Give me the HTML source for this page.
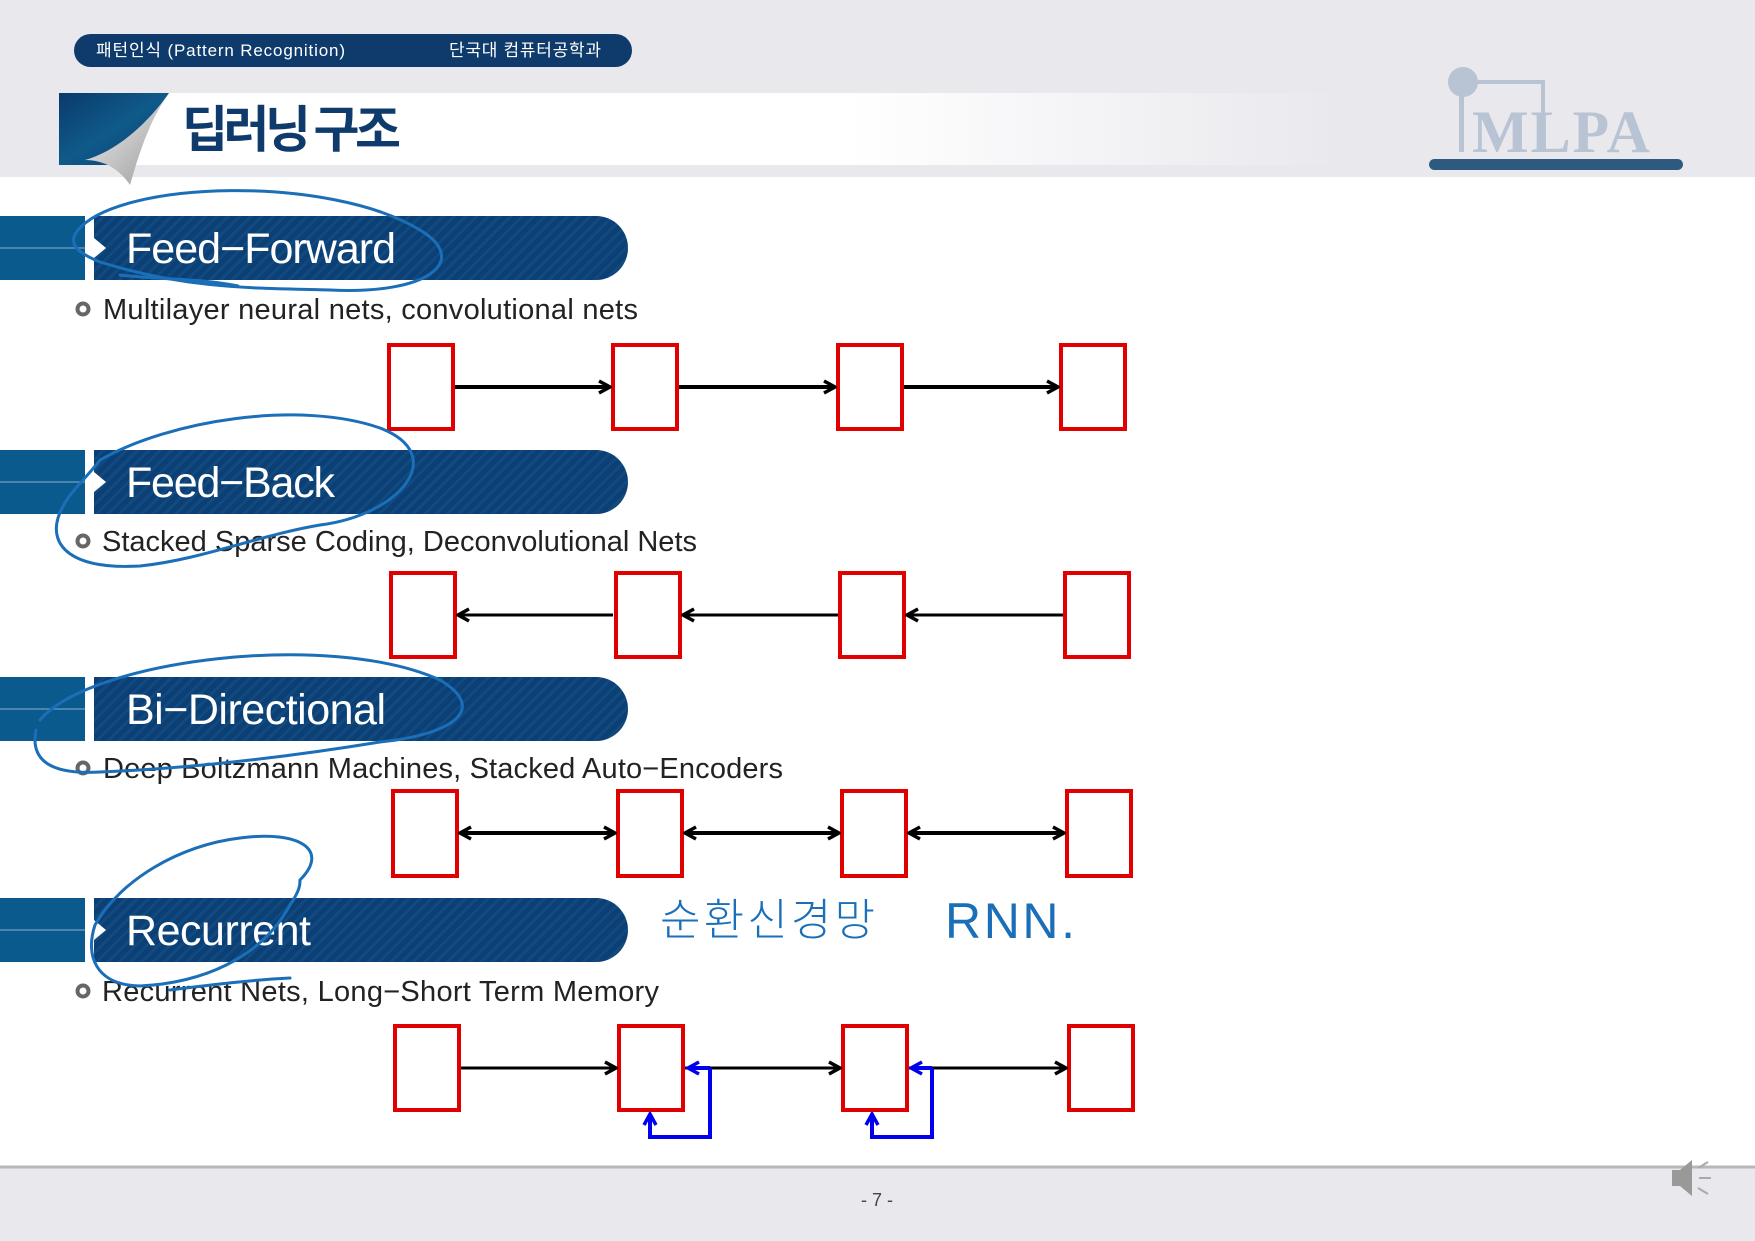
<!DOCTYPE html>
<html><head><meta charset="utf-8"><style>
html,body{margin:0;padding:0;background:#fff;}
svg{display:block;}
</style></head><body>
<svg width="1755" height="1241" viewBox="0 0 1755 1241" xmlns="http://www.w3.org/2000/svg">
<defs>
<pattern id="st" width="8" height="8" patternUnits="userSpaceOnUse" patternTransform="rotate(45)">
<rect width="8" height="8" fill="#0c3f73"/><rect width="3" height="8" fill="#104a80"/>
</pattern>
<linearGradient id="tg" x1="0" x2="1"><stop offset="0" stop-color="#fff"/><stop offset="0.6" stop-color="#fff"/><stop offset="1" stop-color="#e9e9ee"/></linearGradient>
<linearGradient id="cg" x1="0" y1="0" x2="1" y2="1"><stop offset="0" stop-color="#0a3a6b"/><stop offset="0.5" stop-color="#0f5a8a"/><stop offset="1" stop-color="#0a3a6b"/></linearGradient>
<linearGradient id="pg" x1="0" y1="0" x2="1" y2="1"><stop offset="0" stop-color="#f4f4f4"/><stop offset="1" stop-color="#9a9a9a"/></linearGradient>
<marker id="ak" viewBox="0 0 16 16" refX="14" refY="8" markerWidth="16" markerHeight="16" markerUnits="userSpaceOnUse" orient="auto-start-reverse"><path d="M3,2 L14,8 L3,14" fill="none" stroke="#000" stroke-width="3.5"/></marker>
<marker id="ab" viewBox="0 0 16 16" refX="14" refY="8" markerWidth="16" markerHeight="16" markerUnits="userSpaceOnUse" orient="auto"><path d="M3,2 L14,8 L3,14" fill="none" stroke="#0000ee" stroke-width="3.5"/></marker>
</defs>
<rect width="1755" height="177" fill="#e9e9ed"/>
<rect y="1167" width="1755" height="74" fill="#e9e9ed"/>
<line x1="0" y1="1167" x2="1755" y2="1167" stroke="#b8b8bc" stroke-width="3"/>
<rect x="74" y="34" width="558" height="33" rx="16.5" fill="#0e3b6b"/>
<text x="96" y="56" font-family="Liberation Sans,'Noto Sans CJK KR',sans-serif" font-size="17" fill="#fff" textLength="249">패턴인식 (Pattern Recognition)</text>
<text x="449" y="56" font-family="Liberation Sans,'Noto Sans CJK KR',sans-serif" font-size="17" fill="#fff" textLength="152">단국대 컴퓨터공학과</text>
<rect x="120" y="93" width="1210" height="72" fill="url(#tg)"/>
<path d="M59,93 H169 L130,150 L120,165 H59 Z" fill="url(#cg)"/>
<path d="M169,93 C150,120 140,150 130,185 C120,170 105,160 85,160 C120,150 150,120 169,93 Z" fill="url(#pg)"/>
<text x="182" y="147" font-family="'Noto Sans CJK KR',sans-serif" font-weight="bold" font-size="50" fill="#0e3b6b" textLength="219">딥러닝 구조</text>
<circle cx="1463" cy="82" r="15" fill="#b8c3d4"/>
<path d="M1463,82 h80 v60" fill="none" stroke="#b8c3d4" stroke-width="4"/>
<rect x="1459" y="84" width="5" height="68" fill="#b8c3d4"/>
<text x="1472" y="152" font-family="Liberation Serif,serif" font-weight="bold" font-size="60" fill="#b8c3d4" textLength="178">MLPA</text>
<rect x="1429" y="159" width="254" height="11" rx="5.5" fill="#2e5a80"/>

<g font-family="Liberation Sans,sans-serif">
<g transform="translate(0,216)">
<rect x="0" y="0" width="85" height="64" fill="#0b5a8e"/><line x1="0" y1="32" x2="85" y2="32" stroke="#5f93bb" stroke-width="1.5"/>
<path d="M94,0 H596 A32,32 0 0 1 596,64 H94 Z" fill="url(#st)"/>
<path d="M94,22 L106,32 L94,42 Z" fill="#fff"/>
<text x="126" y="47" font-size="43" fill="#fff" textLength="270">Feed−Forward</text>
</g>
<g transform="translate(0,450)">
<rect x="0" y="0" width="85" height="64" fill="#0b5a8e"/><line x1="0" y1="32" x2="85" y2="32" stroke="#5f93bb" stroke-width="1.5"/>
<path d="M94,0 H596 A32,32 0 0 1 596,64 H94 Z" fill="url(#st)"/>
<path d="M94,22 L106,32 L94,42 Z" fill="#fff"/>
<text x="126" y="47" font-size="43" fill="#fff" textLength="209">Feed−Back</text>
</g>
<g transform="translate(0,677)">
<rect x="0" y="0" width="85" height="64" fill="#0b5a8e"/><line x1="0" y1="32" x2="85" y2="32" stroke="#5f93bb" stroke-width="1.5"/>
<path d="M94,0 H596 A32,32 0 0 1 596,64 H94 Z" fill="url(#st)"/>
<text x="126" y="47" font-size="43" fill="#fff" textLength="260">Bi−Directional</text>
</g>
<g transform="translate(0,898)">
<rect x="0" y="0" width="85" height="64" fill="#0b5a8e"/><line x1="0" y1="32" x2="85" y2="32" stroke="#5f93bb" stroke-width="1.5"/>
<path d="M94,0 H596 A32,32 0 0 1 596,64 H94 Z" fill="url(#st)"/>
<path d="M94,22 L106,32 L94,42 Z" fill="#fff"/>
<text x="126" y="47" font-size="43" fill="#fff" textLength="185">Recurrent</text>
</g>
<g fill="none" stroke="#666" stroke-width="4">
<circle cx="83" cy="309" r="5.5"/><circle cx="83" cy="541" r="5.5"/><circle cx="83" cy="768" r="5.5"/><circle cx="83" cy="991" r="5.5"/>
</g>
<g font-size="29" fill="#222">
<text x="103" y="319" textLength="535">Multilayer neural nets, convolutional nets</text>
<text x="102" y="551" textLength="595">Stacked Sparse Coding, Deconvolutional Nets</text>
<text x="103" y="778" textLength="680">Deep Boltzmann Machines, Stacked Auto−Encoders</text>
<text x="102" y="1001" textLength="557">Recurrent Nets, Long−Short Term Memory</text>
</g>
</g>

<g fill="none" stroke="#e00000" stroke-width="4">
<rect x="389" y="345" width="64" height="84"/><rect x="613" y="345" width="64" height="84"/><rect x="838" y="345" width="64" height="84"/><rect x="1061" y="345" width="64" height="84"/>
<rect x="391" y="573" width="64" height="84"/><rect x="616" y="573" width="64" height="84"/><rect x="840" y="573" width="64" height="84"/><rect x="1065" y="573" width="64" height="84"/>
<rect x="393" y="791" width="64" height="85"/><rect x="618" y="791" width="64" height="85"/><rect x="842" y="791" width="64" height="85"/><rect x="1067" y="791" width="64" height="85"/>
<rect x="395" y="1026" width="64" height="84"/><rect x="619" y="1026" width="64" height="84"/><rect x="843" y="1026" width="64" height="84"/><rect x="1069" y="1026" width="64" height="84"/>
</g>
<g stroke="#000" stroke-width="4" fill="none">
<line x1="455" y1="387" x2="610" y2="387" marker-end="url(#ak)"/>
<line x1="679" y1="387" x2="835" y2="387" marker-end="url(#ak)"/>
<line x1="904" y1="387" x2="1058" y2="387" marker-end="url(#ak)"/>
<line x1="613" y1="615" x2="458" y2="615" stroke-width="3" marker-end="url(#ak)"/>
<line x1="838" y1="615" x2="683" y2="615" stroke-width="3" marker-end="url(#ak)"/>
<line x1="1063" y1="615" x2="907" y2="615" stroke-width="3" marker-end="url(#ak)"/>
<line x1="460" y1="833" x2="615" y2="833" marker-start="url(#ak)" marker-end="url(#ak)"/>
<line x1="685" y1="833" x2="839" y2="833" marker-start="url(#ak)" marker-end="url(#ak)"/>
<line x1="909" y1="833" x2="1064" y2="833" marker-start="url(#ak)" marker-end="url(#ak)"/>
<line x1="461" y1="1068" x2="616" y2="1068" stroke-width="3" marker-end="url(#ak)"/>
<line x1="685" y1="1068" x2="840" y2="1068" stroke-width="3" marker-end="url(#ak)"/>
<line x1="909" y1="1068" x2="1066" y2="1068" stroke-width="3" marker-end="url(#ak)"/>
</g>
<g stroke="#0000ee" stroke-width="4" fill="none">
<path d="M710,1068 V1137 H650 V1114" marker-end="url(#ab)"/>
<path d="M710,1068 H688" marker-end="url(#ab)"/>
<path d="M932,1068 V1137 H872 V1114" marker-end="url(#ab)"/>
<path d="M932,1068 H911" marker-end="url(#ab)"/>
</g>

<g stroke="#1a6fb8" stroke-width="3" fill="none" stroke-linecap="round">
<path d="M78,230 C120,180 330,175 420,230 C470,260 430,295 330,290 C260,288 190,290 100,262 C70,250 70,240 78,230"/>
<path d="M238,286 C200,278 160,280 120,275"/>
<path d="M100,460 C170,420 300,400 380,428 C450,455 400,515 320,525 C260,535 200,560 140,566 C70,570 50,545 58,518 C65,495 85,480 100,460"/>
<path d="M40,720 C90,660 330,630 440,680 C490,710 450,735 380,742 C300,755 200,768 100,772 C50,775 30,760 36,730"/>
<path d="M300,880 C330,850 300,830 240,838 C180,845 120,880 95,925 C85,955 95,985 140,986 C200,983 260,960 290,905 C300,890 300,885 300,880"/>
<path d="M170,990 C210,985 250,980 290,978"/>
</g>
<text x="660" y="935" font-family="'Noto Sans CJK KR',sans-serif" font-size="44" font-weight="300" fill="#1a6fb8" textLength="215">순환신경망</text>
<text x="945" y="938" font-family="Liberation Sans,sans-serif" font-size="50" fill="#1a6fb8" textLength="130">RNN.</text>

<text x="877" y="1206" font-family="Liberation Sans,sans-serif" font-size="18" fill="#444" text-anchor="middle">- 7 -</text>
<g fill="#999"><path d="M1672,1170 h8 l12,-10 v36 l-12,-10 h-8 z"/></g>
<g stroke="#aaa" stroke-width="2"><line x1="1698" y1="1168" x2="1708" y2="1162"/><line x1="1699" y1="1178" x2="1711" y2="1178"/><line x1="1698" y1="1188" x2="1708" y2="1194"/></g>
</svg>
</body></html>
